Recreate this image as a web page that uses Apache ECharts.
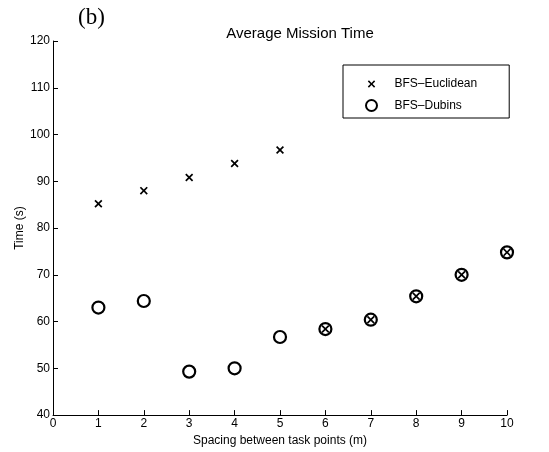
<!DOCTYPE html>
<html><head><meta charset="utf-8">
<script src="https://cdn.jsdelivr.net/npm/echarts@6/dist/echarts.min.js"></script>
<style>html,body{margin:0;padding:0;background:#fff}#c{width:549px;height:452px}</style>
</head><body><div id="c"></div>
<script>
const spacing = [1, 2, 3, 4, 5, 6, 7, 8, 9, 10];
const euclidean = [85.2, 88.0, 90.8, 93.8, 96.7, 58.4, 60.4, 65.4, 70.0, 74.8];
const dubins = [63.0, 64.4, 49.3, 50.0, 56.7, 58.4, 60.4, 65.4, 70.0, 74.8];
const xTicks = [0, 10, 1];
const yTicks = [40, 120, 10];

const F = '"Liberation Sans", Arial, sans-serif';
const crossBody = 'M0,1.5L1.5,0L5,3.5L8.5,0L10,1.5L6.5,5L10,8.5L8.5,10L5,6.5L1.5,10L0,8.5L3.5,5Z';
const cross = 'path://' + crossBody;
const crossLegend = 'path://M-2.5,-2.5L-2.45,-2.5L-2.45,-2.45Z M12.5,12.5L12.45,12.5L12.45,12.45Z ' + crossBody;
const chart = echarts.init(document.getElementById('c'), null, {renderer: 'canvas'});
chart.setOption({
  animation: false,
  backgroundColor: '#fff',
  title: [
    {text: 'Average Mission Time', left: 295, top: 21, textAlign: 'center',
     textStyle: {fontFamily: F, fontSize: 15, fontWeight: 'normal', color: '#000'}},
    {text: '(b)', left: 73, top: 1,
     textStyle: {fontFamily: '"Liberation Serif", "Times New Roman", serif', fontSize: 23, fontWeight: 'normal', color: '#000'}}
  ],
  graphic: [
    {type: 'text', x: 20, y: 228, rotation: Math.PI / 2,
     style: {text: 'Time (s)', fill: '#000', font: '12px ' + F, textAlign: 'center', textVerticalAlign: 'middle'}}
  ],
  grid: {left: 53, right: 42, top: 41, bottom: 36, containLabel: false},
  legend: {
    data: [{name: 'BFS\u2013Euclidean', icon: crossLegend}, {name: 'BFS\u2013Dubins'}],
    orient: 'vertical', left: 343, top: 65, width: 165,
    padding: [13, 32, 6, 22], itemGap: 9, itemWidth: 12, itemHeight: 11,
    borderColor: '#000', borderWidth: 1, backgroundColor: '#fff',
    textStyle: {fontFamily: F, fontSize: 12, color: '#000', padding: [0, 0, 0, 12]}
  },
  xAxis: {
    type: 'value', min: xTicks[0], max: xTicks[1], interval: xTicks[2],
    name: 'Spacing between task points (m)', nameLocation: 'middle', nameGap: 17,
    nameTextStyle: {fontFamily: F, fontSize: 12, color: '#000'},
    axisLine: {lineStyle: {color: '#000', width: 1}},
    axisTick: {inside: true, length: 5, lineStyle: {color: '#000'}},
    axisLabel: {fontFamily: F, fontSize: 12, color: '#000', margin: 3},
    splitLine: {show: false}
  },
  yAxis: {
    type: 'value', min: yTicks[0], max: yTicks[1], interval: yTicks[2],
    axisLine: {show: true, lineStyle: {color: '#000', width: 1}},
    axisTick: {show: true, inside: true, length: 5, lineStyle: {color: '#000'}},
    axisLabel: {fontFamily: F, fontSize: 12, color: '#000', margin: 3},
    splitLine: {show: false}
  },
  series: [
    {name: 'BFS\u2013Dubins', type: 'scatter', z: 2,
     data: spacing.map((x, i) => [x, dubins[i]]),
     symbol: 'circle', symbolSize: 12,
     itemStyle: {color: 'rgba(255,255,255,0)', borderColor: '#000', borderWidth: 2.2, opacity: 1}},
    {name: 'BFS\u2013Euclidean', type: 'scatter', z: 3,
     data: spacing.map((x, i) => [x, euclidean[i]]),
     symbol: cross, symbolSize: 8,
     itemStyle: {color: '#000', opacity: 1}}
  ]
});
</script></body></html>
